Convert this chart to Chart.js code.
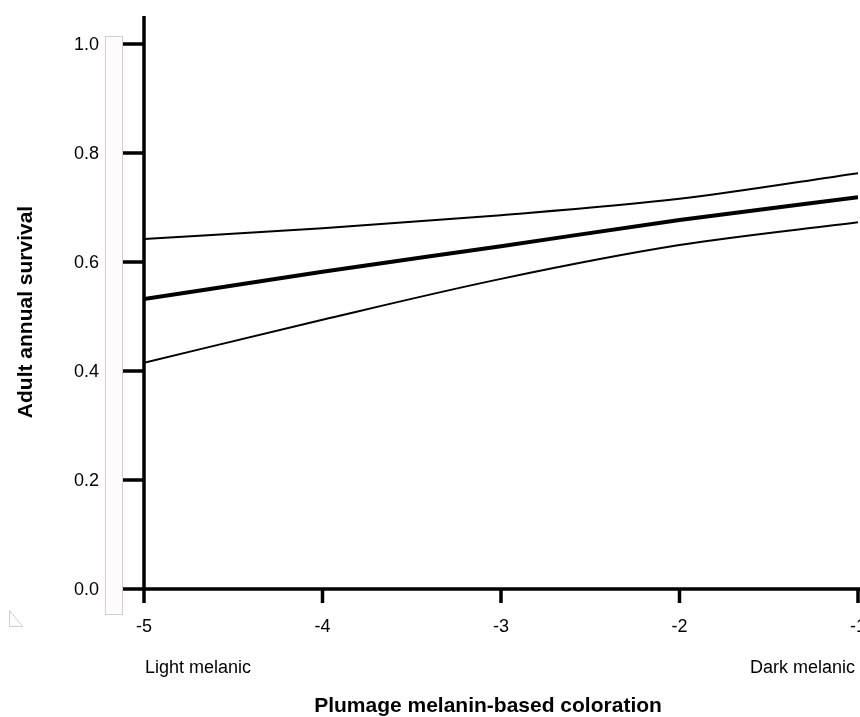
<!DOCTYPE html>
<html>
<head>
<meta charset="utf-8">
<script src="https://cdn.jsdelivr.net/npm/chart.js@4"></script>
<style>
  html, body { margin: 0; padding: 0; background: #fff; overflow: hidden; }
  #wrap { width: 860px; height: 717px; position: relative; }
</style>
</head>
<body>
<div id="wrap"><canvas id="survival"></canvas></div>
<script>
// plumage score and model estimates (fit with 95% CI)
const coloration = [-5, -4, -3, -2, -1];
const survivalFit = [0.532, 0.582, 0.629, 0.677, 0.719];
const upperCI = [0.642, 0.662, 0.686, 0.716, 0.763];
const lowerCI = [0.415, 0.494, 0.569, 0.631, 0.673];
const yTicks = [0, 0.2, 0.4, 0.6, 0.8, 1.0];
const xTicks = [-5, -4, -3, -2, -1];

const FONT = '"Liberation Sans", Arial, sans-serif';

function points(values) {
    return coloration.map((x, i) => ({ x: x, y: values[i] }));
}

// axes are drawn by hand so the last tick label can run off the edge
const plotAxes = {
    id: 'plotAxes',
    beforeDatasetsDraw(chart) {
        const ctx = chart.ctx;
        const xs = chart.scales.x, ys = chart.scales.y;
        const x0 = xs.getPixelForValue(-5);
        const y0 = ys.getPixelForValue(0);
        ctx.save();

        // leftover widget box and corner marker
        ctx.fillStyle = '#fdfbfb';
        ctx.strokeStyle = '#cfcfcf';
        ctx.lineWidth = 1;
        ctx.fillRect(105, 36, 17, 578);
        ctx.strokeRect(105.5, 36.5, 17, 578);
        ctx.beginPath();
        ctx.moveTo(9.5, 610.5);
        ctx.lineTo(9.5, 626.5);
        ctx.lineTo(22.5, 626.5);
        ctx.closePath();
        ctx.stroke();

        ctx.strokeStyle = '#000';
        ctx.lineWidth = 3.5;
        ctx.lineCap = 'butt';
        ctx.beginPath();
        ctx.moveTo(x0, 16);
        ctx.lineTo(x0, y0 + 14);
        ctx.moveTo(123, y0);
        ctx.lineTo(chart.width, y0);
        yTicks.forEach(v => {
            const py = ys.getPixelForValue(v);
            ctx.moveTo(123, py);
            ctx.lineTo(x0, py);
        });
        xTicks.forEach(v => {
            const px = xs.getPixelForValue(v);
            ctx.moveTo(px, y0);
            ctx.lineTo(px, y0 + 14);
        });
        ctx.stroke();

        ctx.fillStyle = '#000';
        ctx.font = '18px ' + FONT;
        ctx.textAlign = 'right';
        ctx.textBaseline = 'middle';
        yTicks.forEach(v => {
            ctx.fillText(v.toFixed(1), 99, ys.getPixelForValue(v) + 1);
        });
        ctx.textAlign = 'center';
        xTicks.forEach(v => {
            ctx.fillText(String(v), xs.getPixelForValue(v), 627);
        });
        ctx.textAlign = 'left';
        ctx.fillText('Light melanic', 145, 668);
        ctx.textAlign = 'right';
        ctx.fillText('Dark melanic', 855, 668);

        ctx.font = 'bold 21px ' + FONT;
        ctx.textAlign = 'center';
        ctx.fillText('Plumage melanin-based coloration', 488, 706);
        ctx.translate(26, 312);
        ctx.rotate(-Math.PI / 2);
        ctx.fillText('Adult annual survival', 0, 0);
        ctx.restore();
    }
};

const line = (values, width) => ({
    data: points(values),
    borderColor: '#000',
    borderWidth: width,
    pointRadius: 0,
    fill: false,
    cubicInterpolationMode: 'monotone'
});

new Chart(document.getElementById('survival').getContext('2d'), {
    type: 'line',
    data: {
        datasets: [
            line(upperCI, 2),
            line(survivalFit, 4),
            line(lowerCI, 2)
        ]
    },
    options: {
        responsive: true,
        maintainAspectRatio: false,
        animation: false,
        layout: {
            padding: { left: 144, right: 2, top: 44, bottom: 128 }
        },
        plugins: {
            legend: { display: false },
            tooltip: { enabled: false }
        },
        scales: {
            x: { type: 'linear', min: -5, max: -1, display: false },
            y: { min: 0, max: 1, display: false }
        }
    },
    plugins: [plotAxes]
});
</script>
</body>
</html>
